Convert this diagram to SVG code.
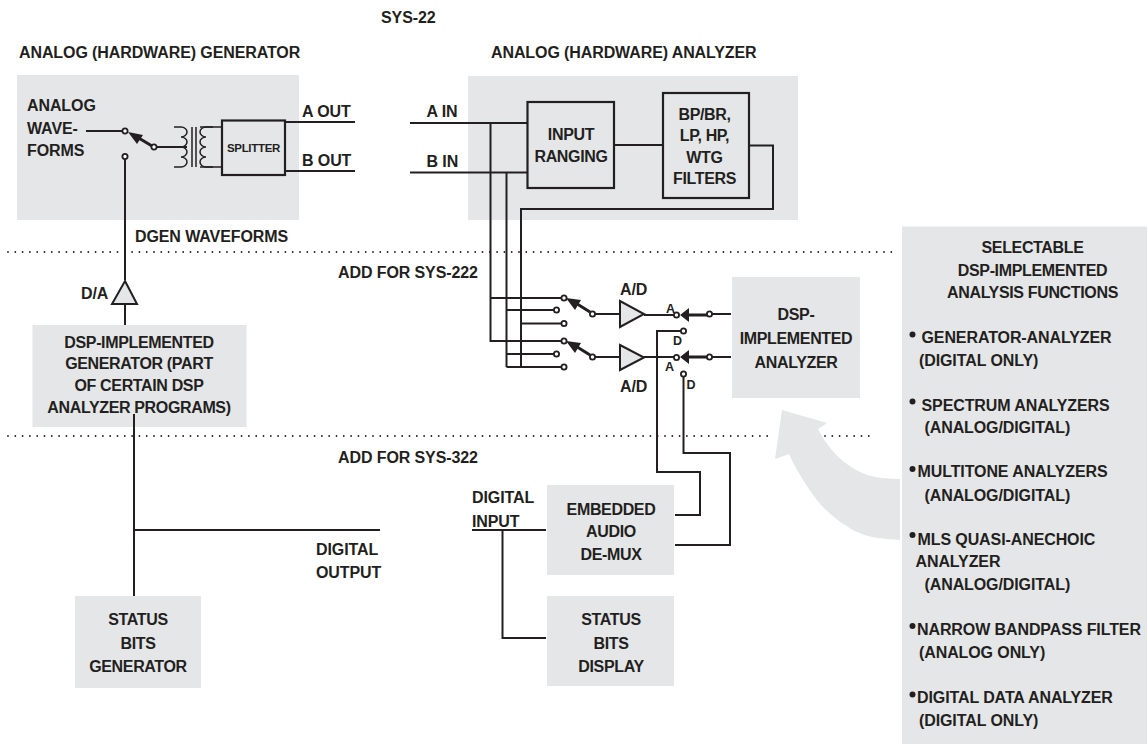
<svg xmlns="http://www.w3.org/2000/svg" width="1148" height="744" viewBox="0 0 1148 744">
<style>
text{font-family:"Liberation Sans",Arial,sans-serif;font-weight:700;font-size:16px;fill:#231f20;letter-spacing:-.1px}
.m{text-anchor:middle;letter-spacing:-.35px}
.s{font-size:11.5px;letter-spacing:-.3px}
.x{font-size:12.5px}
.box{fill:#e5e6e8}
.l{fill:none;stroke:#231f20;stroke-width:2}
.t{fill:none;stroke:#231f20;stroke-width:1.5}
.b{fill:none;stroke:#231f20;stroke-width:2.2}
.c{fill:#fff;stroke:#231f20;stroke-width:1.8}
.d{fill:none;stroke:#231f20;stroke-width:1.8;stroke-linecap:round;stroke-dasharray:0 7.3}
.tri{fill:#e5e6e8;stroke:#231f20;stroke-width:2}
.a{fill:#231f20}
.sw{stroke:#231f20;stroke-width:3;fill:none}
</style>
<g id="regions">
<rect id="generator-bg" class="box" x="17" y="75" width="282" height="145"/>
<rect id="analyzer-bg" class="box" x="468" y="76" width="330" height="144"/>
</g>
<g id="dividers">
<path class="d" d="M8 252H895"/>
<path class="d" d="M8 436H772M825 436H870"/>
</g>
<path id="big-arrow" class="box" d="M782 410L827 423L818 429C828 448 842 465 867 475C878 478 890 479 900 479L900 540C885 539 870 538 857 532C843 525 832 516 823 507C812 495 797 472 789 454L775 459Z"/>
<g id="connectors">
<path class="l" d="M86 131H123M125 159V280M125 304V325M157 147H187M285 122H355M285 171H355"/>
<path class="t" d="M200 127H222M200 167H222"/>
<path class="t" d="M192 127V167M196 127V167"/>
<path class="t" d="M174 127H181a6 5 0 0 1 0 10a6 5 0 0 1 0 10a6 5 0 0 1 0 10a6 5 0 0 1 0 10H174"/>
<path class="t" d="M213 127H206a6 5 0 0 0 0 10a6 5 0 0 0 0 10a6 5 0 0 0 0 10a6 5 0 0 0 0 10H213"/>
<path class="sw" d="M152 146L137 137"/>
<path class="a" d="M128 132L143 135L137 144Z"/>
<path class="l" d="M410 123H527M410 172.500H527M614 145H663M749 145.500H773V209H521V367H562M490.500 123V341H562M506.500 172.500V367M490.500 298H562M506.500 310H554M521 323.500H562M506.500 354H554M506.500 367H521"/>
<path class="l" d="M595 314H620M595 357H620M644 315H674M644 357H674M712 314H731M712 357H731M657 357V331H681M657 357V472H700V515H675M683.500 377V453H730V545H675"/>
<path class="sw" d="M590 312L574 302M590 355L574 345"/>
<path class="a" d="M566 298L581 300L575 310ZM566 341L581 343L575 353Z"/>
<path class="sw" d="M687 315H707M687 357H707"/>
<path class="a" d="M680 315L689 308V322ZM680 357L689 350V364Z"/>
<path class="l" d="M134 414V596M134 530H380M472 530H546M502.500 530V638H546"/>
</g>
<g id="switch-contacts">
<circle class="c" cx="125" cy="131" r="2.600"/><circle class="c" cx="125" cy="156.500" r="2.600"/><circle class="c" cx="154" cy="147" r="2.600"/>
<circle class="c" cx="564" cy="298" r="2.600"/><circle class="c" cx="556.500" cy="310" r="2.600"/><circle class="c" cx="564" cy="323.500" r="2.600"/><circle class="c" cx="564" cy="341" r="2.600"/><circle class="c" cx="556.500" cy="354" r="2.600"/><circle class="c" cx="564" cy="367" r="2.600"/>
<circle class="c" cx="592.500" cy="314" r="2.600"/><circle class="c" cx="592.500" cy="357" r="2.600"/>
<circle class="c" cx="676.500" cy="315" r="2.600"/><circle class="c" cx="709.500" cy="314" r="2.600"/><circle class="c" cx="683.500" cy="331" r="2.600"/><circle class="c" cx="676.500" cy="357.500" r="2.600"/><circle class="c" cx="709.500" cy="357" r="2.600"/><circle class="c" cx="683.500" cy="374" r="2.600"/>
</g>
<g id="labels">
<text x="381" y="23">SYS-22</text>
<text x="19" y="58">ANALOG (HARDWARE) GENERATOR</text>
<text x="491" y="58">ANALOG (HARDWARE) ANALYZER</text>
<text x="27" y="111">ANALOG</text><text x="27" y="134">WAVE-</text><text x="27" y="156">FORMS</text>
<text x="302" y="116.500">A OUT</text><text x="302" y="166">B OUT</text>
<text x="426.500" y="116.500">A IN</text><text x="426.500" y="166.500">B IN</text>
<text x="135" y="241.500">DGEN WAVEFORMS</text>
<text x="338" y="278">ADD FOR SYS-222</text>
<text x="338" y="463">ADD FOR SYS-322</text>
<text x="81" y="299">D/A</text>
<text x="620" y="294.500">A/D</text><text x="620" y="391.500">A/D</text>
<text x="666" y="313" class="x">A</text><text x="673" y="344.500" class="x">D</text><text x="665" y="371" class="x">A</text><text x="686.500" y="389" class="x">D</text>
<text x="316" y="555">DIGITAL</text><text x="316" y="578">OUTPUT</text>
<text x="472" y="503">DIGITAL</text><text x="472" y="526.500">INPUT</text>
</g>
<g id="splitter"><rect class="b" x="222" y="120.500" width="63" height="54.500"/><text x="253.500" y="152" class="m s">SPLITTER</text></g>
<g id="input-ranging"><rect class="b" x="527.500" y="102" width="86.500" height="86"/><text x="571" y="140" class="m">INPUT</text><text x="571" y="162" class="m">RANGING</text></g>
<g id="filters"><rect class="b" x="663" y="93" width="86" height="105"/><text x="704.500" y="120" class="m">BP/BR,</text><text x="704.500" y="141" class="m">LP, HP,</text><text x="704.500" y="163" class="m">WTG</text><text x="704.500" y="184" class="m">FILTERS</text></g>
<g id="da-amp"><path class="tri" d="M125 281L137 304H112Z"/></g>
<g id="ad-amp-1"><path class="tri" d="M620 301V327L644 314Z"/></g>
<g id="ad-amp-2"><path class="tri" d="M620 345V370L644 357.500Z"/></g>
<g id="dsp-generator"><rect class="box" x="32.500" y="325" width="214" height="102"/><text x="139" y="347.500" class="m">DSP-IMPLEMENTED</text><text x="139" y="369" class="m">GENERATOR (PART</text><text x="139" y="391" class="m">OF CERTAIN DSP</text><text x="139" y="413" class="m">ANALYZER PROGRAMS)</text><path class="l" d="M134 414V427"/></g>
<g id="dsp-analyzer"><rect class="box" x="732" y="277" width="128" height="121"/><text x="796" y="320" class="m">DSP-</text><text x="796" y="344" class="m">IMPLEMENTED</text><text x="796" y="368" class="m">ANALYZER</text></g>
<g id="status-generator"><rect class="box" x="75" y="596" width="126" height="92"/><text x="138" y="625" class="m">STATUS</text><text x="138" y="649" class="m">BITS</text><text x="138" y="672" class="m">GENERATOR</text></g>
<g id="demux"><rect class="box" x="547" y="485" width="127" height="90"/><text x="611" y="515" class="m">EMBEDDED</text><text x="611" y="537" class="m">AUDIO</text><text x="611" y="559.500" class="m">DE-MUX</text></g>
<g id="status-display"><rect class="box" x="547" y="596" width="127" height="90"/><text x="611" y="625" class="m">STATUS</text><text x="611" y="649" class="m">BITS</text><text x="611" y="672" class="m">DISPLAY</text></g>
<g id="functions"><rect class="box" x="902" y="226.500" width="245" height="517.500"/>
<text x="1032.500" y="253" class="m">SELECTABLE</text><text x="1032.500" y="275.500" class="m">DSP-IMPLEMENTED</text><text x="1032.500" y="297.500" class="m">ANALYSIS FUNCTIONS</text>
<text x="921.500" y="342.500">GENERATOR-ANALYZER</text><text x="919" y="365.500">(DIGITAL ONLY)</text>
<text x="921.500" y="410.500">SPECTRUM ANALYZERS</text><text x="924.500" y="433">(ANALOG/DIGITAL)</text>
<text x="917.500" y="477">MULTITONE ANALYZERS</text><text x="924.500" y="500.500">(ANALOG/DIGITAL)</text>
<text x="917.500" y="545">MLS QUASI-ANECHOIC</text><text x="915.500" y="567">ANALYZER</text><text x="924.500" y="590">(ANALOG/DIGITAL)</text>
<text x="917" y="634.500">NARROW BANDPASS FILTER</text><text x="919" y="658">(ANALOG ONLY)</text>
<text x="917" y="702.500">DIGITAL DATA ANALYZER</text><text x="919" y="725.500">(DIGITAL ONLY)</text>
<circle class="a" cx="912.500" cy="334.500" r="3"/><circle class="a" cx="912.500" cy="401.500" r="3"/><circle class="a" cx="912.500" cy="469" r="3"/><circle class="a" cx="912.500" cy="535" r="3"/><circle class="a" cx="912.500" cy="626" r="3"/><circle class="a" cx="912.500" cy="694.500" r="3"/>
</g>
</svg>
